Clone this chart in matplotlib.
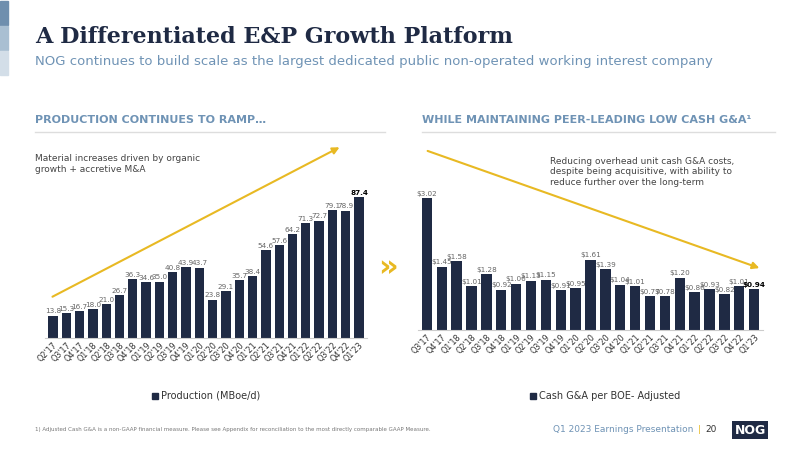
import matplotlib
matplotlib.use("Agg")
import matplotlib.pyplot as plt
from matplotlib.patches import Rectangle, FancyArrowPatch

prod_quarters = ["Q2'17", "Q3'17", "Q4'17", "Q1'18", "Q2'18", "Q3'18", "Q4'18", "Q1'19",
                 "Q2'19", "Q3'19", "Q4'19", "Q1'20", "Q2'20", "Q3'20", "Q4'20", "Q1'21",
                 "Q2'21", "Q3'21", "Q4'21", "Q1'22", "Q2'22", "Q3'22", "Q4'22", "Q1'23"]
production = [13.8, 15.3, 16.7, 18.0, 21.0, 26.7, 36.3, 34.6, 35.0, 40.8, 43.9, 43.7,
              23.8, 29.1, 35.7, 38.4, 54.6, 57.6, 64.2, 71.3, 72.7, 79.1, 78.9, 87.4]

ga_quarters = prod_quarters[1:]
cash_ga = [3.02, 1.45, 1.58, 1.01, 1.28, 0.92, 1.06, 1.13, 1.15, 0.91, 0.95, 1.61,
           1.39, 1.04, 1.01, 0.77, 0.78, 1.20, 0.86, 0.93, 0.82, 1.01, 0.94]

NAVY = "#1f2a44"
BLUE = "#6f93b5"
GOLD = "#e8b923"

fig = plt.figure(figsize=(8, 4.5), dpi=100)
W, H = 800, 450


def fx(px):
    return px / W


def fy(py):
    return 1 - py / H


# corner boxes
for i, c in enumerate(["#6f8fae", "#a9bfd2", "#d3dee8"]):
    fig.patches.append(Rectangle((0, fy(25 * (i + 1))), fx(8), 24 / H,
                                 transform=fig.transFigure, color=c))

fig.text(fx(35), fy(37), "A Differentiated E&P Growth Platform", fontsize=16,
         fontweight="bold", family="DejaVu Serif", color=NAVY, va="center")
fig.text(fx(35), fy(62), "NOG continues to build scale as the largest dedicated public "
         "non-operated working interest company", fontsize=9.5, color=BLUE, va="center")

fig.text(fx(35), fy(120), "PRODUCTION CONTINUES TO RAMP…", fontsize=8, fontweight="bold",
         color=BLUE, va="center")
fig.text(fx(422), fy(120), "WHILE MAINTAINING PEER-LEADING LOW CASH G&A¹", fontsize=8,
         fontweight="bold", color=BLUE, va="center")
for x0, x1 in [(35, 385), (422, 775)]:
    fig.add_artist(plt.Line2D([fx(x0), fx(x1)], [fy(132), fy(132)], color="#dddddd", lw=1))

fig.text(fx(35), fy(164), "Material increases driven by organic\ngrowth + accretive M&A",
         fontsize=6.5, color="#444444", va="center")
fig.text(fx(550), fy(172), "Reducing overhead unit cash G&A costs,\ndespite being acquisitive, "
         "with ability to\nreduce further over the long-term",
         fontsize=6.5, color="#444444", va="center")


def draw_bars(ax, labels, values, top, fmt, pad):
    xs = range(len(values))
    ax.bar(xs, values, width=0.7, color=NAVY)
    ax.set_ylim(0, top)
    ax.set_xlim(-0.6, len(values) - 0.4)
    for i, v in enumerate(values):
        last = i == len(values) - 1
        ax.text(i, v + pad, fmt.format(v), ha="center", va="bottom", fontsize=5.2,
                color="black" if last else "#666666",
                fontweight="bold" if last else "normal")
    ax.set_xticks(list(xs))
    ax.set_xticklabels(labels, rotation=45, ha="right", rotation_mode="anchor",
                       fontsize=5.8, color="#333333")
    ax.set_yticks([])
    for s in ["top", "right", "left"]:
        ax.spines[s].set_visible(False)
    ax.spines["bottom"].set_color("#cccccc")
    ax.tick_params(axis="x", length=0, pad=2)


ax1 = fig.add_axes([fx(45), fy(338), fx(322), 150 / H])
draw_bars(ax1, prod_quarters, production, 93, "{:.1f}", 0.8)

ax2 = fig.add_axes([fx(418), fy(330), fx(345), 150 / H])
draw_bars(ax2, ga_quarters, cash_ga, 3.43, "${:.2f}", 0.03)

# legends
for px, label in [(152, "Production (MBoe/d)"), (530, "Cash G&A per BOE- Adjusted")]:
    fig.patches.append(Rectangle((fx(px), fy(399)), 6 / W, 6 / H,
                                 transform=fig.transFigure, color=NAVY))
    fig.text(fx(px + 9), fy(396), label, fontsize=7, color="#333333", va="center")

# trend arrows
fig.add_artist(FancyArrowPatch((fx(50), fy(298)), (fx(342), fy(146)),
               transform=fig.transFigure, arrowstyle="-|>", mutation_scale=10,
               color=GOLD, lw=1.5))
fig.add_artist(FancyArrowPatch((fx(425), fy(150)), (fx(762), fy(269)),
               transform=fig.transFigure, arrowstyle="-|>", mutation_scale=10,
               color=GOLD, lw=1.5))

# chevrons between charts
fig.text(fx(388), fy(268), "»", fontsize=22, fontweight="bold", color=GOLD,
         ha="center", va="center")

fig.text(fx(35), fy(430), "1) Adjusted Cash G&A is a non-GAAP financial measure. Please see "
         "Appendix for reconciliation to the most directly comparable GAAP Measure.",
         fontsize=4, color="#777777", va="center")
fig.text(fx(693), fy(430), "Q1 2023 Earnings Presentation", fontsize=6.5, color=BLUE,
         ha="right", va="center")
fig.text(fx(698), fy(430), "|", fontsize=6.5, color=GOLD, va="center")
fig.text(fx(705), fy(430), "20", fontsize=6.5, color="#333333", va="center")
fig.text(fx(750), fy(430), "NOG", fontsize=9, fontweight="bold", color="white",
         ha="center", va="center",
         bbox=dict(boxstyle="square,pad=0.2", fc=NAVY, ec="none"))

fig.savefig("out.png", dpi=100)
